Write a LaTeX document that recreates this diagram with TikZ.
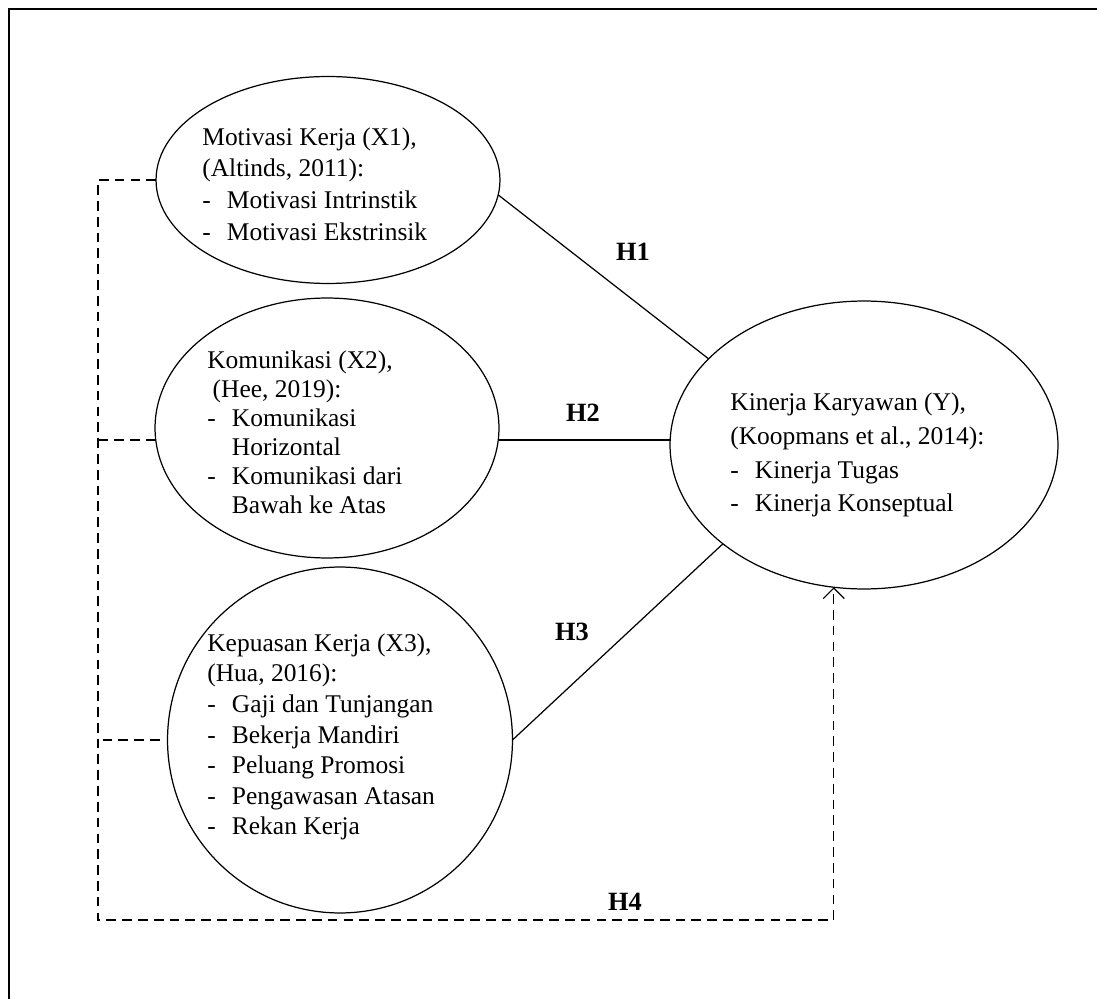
\documentclass[tikz,border=0pt]{standalone}
\usepackage{fontspec}
\setmainfont{Liberation Serif}
\usetikzlibrary{shapes.geometric,arrows.meta}
\tikzset{var/.style = {draw, ellipse, line width=0.7pt, inner sep=0pt, outer sep=0pt},
         txt/.style = {align=left, inner sep=0pt, anchor=west, font=\fontsize{14.5}{18}\selectfont},
         hyp/.style = {inner sep=0pt, font=\fontsize{15}{18}\selectfont\bfseries},
         rel/.style = {line width=0.7pt},
         link/.style = {line width=0.7pt, dash pattern=on 5.5pt off 3.5pt}}
\newcommand{\itm}{\makebox[14pt][l]{-}}
\newcommand{\ind}{\hspace*{14pt}}

\begin{document}
\begin{tikzpicture}[x=0.02cm, y=-0.02cm, >={Straight Barb[length=6pt,width=12pt]}]
    \useasboundingbox (0,0) rectangle (1097,999);
    \draw[line width=1.1pt](9,999)--(9,9)--(1097,9);
    % variables
    \node[var, minimum width=6.88cm, minimum height=4.14cm](e1)at(328,180){};
    \node[var, minimum width=6.88cm, minimum height=5.2cm](e2)at(327,428){};
    \node[var, minimum width=6.9cm, minimum height=6.92cm](e3)at(340,740){};
    \node[var, minimum width=7.76cm, minimum height=5.76cm](e4)at(864,445){};
    \node[txt](t1)at(202,184){Motivasi Kerja (X1),\\(Altinds, 2011):\\\itm Motivasi Intrinstik\\\itm Motivasi Ekstrinsik};
    \node[txt, font=\fontsize{14.5}{16.5}\selectfont](t2)at(207,432){Komunikasi (X2),\\\hspace*{3pt}(Hee, 2019):\\\itm Komunikasi\\\ind Horizontal\\\itm Komunikasi dari\\\ind Bawah ke Atas};
    \node[txt, font=\fontsize{14.5}{17.4}\selectfont](t3)at(207,737){Kepuasan Kerja (X3),\\(Hua, 2016):\\\itm Gaji dan Tunjangan\\\itm Bekerja Mandiri\\\itm Peluang Promosi\\\itm Pengawasan Atasan\\\itm Rekan Kerja};
    \node[txt, font=\fontsize{14.5}{19.3}\selectfont](t4)at(730,455){Kinerja Karyawan (Y),\\(Koopmans et al., 2014):\\\itm Kinerja Tugas\\\itm Kinerja Konseptual};
    % hypotheses
    \draw[rel](e1.355)--(e4.151);
    \draw[rel](e2.356)--(e2.356-|e4.west);
    \draw[rel](e3.east)--(e4.215);
    \node[hyp](h1)at(633,252){H1};
    \node[hyp](h2)at(583,413){H2};
    \node[hyp](h3)at(572,632){H3};
    \node[hyp](h4)at(625,902){H4};
    % simultaneous path
    \coordinate(c1)at(98,920);
    \draw[link,->](e1.west)-|(c1)-|(e4.258);
    \draw[link](e2.184)--(e2.184-|c1);
    \draw[link, shorten <=4.5pt](e3.west)--(e3.west-|c1);
\end{tikzpicture}
\end{document}
